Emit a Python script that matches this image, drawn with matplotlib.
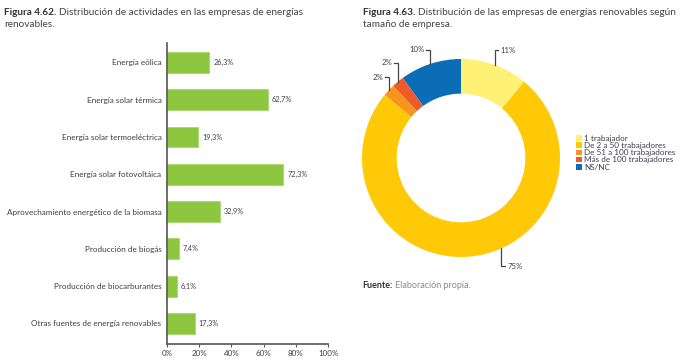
import numpy as np
import matplotlib
matplotlib.use("Agg")
import matplotlib.pyplot as plt

plt.rcParams['font.family'] = ['Lato', 'DejaVu Sans']

# datos figura 4.62
actividades = ["Energía eólica", "Energía solar térmica", "Energía solar termoeléctrica",
               "Energía solar fotovoltáica", "Aprovechamiento energético de la biomasa",
               "Producción de biogás", "Producción de biocarburantes",
               "Otras fuentes de energía renovables"]
porcentajes = [26.3, 62.7, 19.3, 72.3, 32.9, 7.4, 6.1, 17.3]
xticks = [0, 20, 40, 60, 80, 100]

# datos figura 4.63
tamanos = ["1 trabajador", "De 2 a 50 trabajadores", "De 51 a 100 trabajadores",
           "Más de 100 trabajadores", "NS/NC"]
cuota = [11, 75, 2, 2, 10]
colores = ["#FFF176", "#FFC907", "#F7941D", "#F05A28", "#0C6DB7"]

txt = "#3d3d4d"
fig = plt.figure(figsize=(7, 3.64), dpi=100)

# --- barras ---
ax = fig.add_axes([167/700, 1 - 344/364, 161/700, 301/364])
y = np.arange(len(actividades))
ax.barh(y, porcentajes, height=0.56, color="#8DC63F", edgecolor="#A8D86A", linewidth=0.6)
for yi, v in zip(y, porcentajes):
    ax.text(v + 2.5, yi, f"{v:.1f}".replace(".", ",") + "%", va="center", ha="left",
            fontsize=5.2, color=txt)
ax.set_yticks(y)
ax.set_yticklabels(actividades, fontsize=5.9, color=txt)
ax.set_ylim(len(actividades) - 0.45, -0.52)
ax.set_xlim(0, 100)
ax.set_xticks(xticks)
ax.set_xticklabels([f"{t}%" for t in xticks], fontsize=5.8, color=txt)
ax.tick_params(axis="y", length=0, pad=4)
ax.tick_params(axis="x", length=2.5, width=0.8, color="#555555", pad=2)
for s in ["top", "right"]:
    ax.spines[s].set_visible(False)
for s in ["left", "bottom"]:
    ax.spines[s].set_color("#555555")
    ax.spines[s].set_linewidth(1.2)

# --- donut ---
cx, cy, r = 461, 158, 99
ax2 = fig.add_axes([(cx - r)/700, 1 - (cy + r)/364, 2*r/700, 2*r/364])
wedges, _ = ax2.pie(cuota, colors=colores, startangle=90, counterclock=False,
                    radius=1, wedgeprops=dict(width=0.35, linewidth=0))
ax2.set_xlim(-1, 1)
ax2.set_ylim(-1, 1)
ax2.axis("off")

# posiciones de las etiquetas: desplazamiento angular y largo de la guía
ang_offset = [0, 18.6, 0, 0, 0]
guia = [0.15, 0.18, 0.13, 0.19, 0.14]
for w, v, da, L in zip(wedges, cuota, ang_offset, guia):
    a = np.deg2rad((w.theta1 + w.theta2) / 2 + da)
    x0, y0 = np.cos(a), np.sin(a)
    sy = 1 if y0 > 0 else -1
    sx = 1 if x0 > 0 else -1
    y1 = y0 + sy * L
    ax2.plot([x0, x0, x0 + sx * 0.04], [y0, y1, y1], color="#444444", lw=0.9,
             clip_on=False, solid_joinstyle="miter")
    ax2.text(x0 + sx * 0.06, y1, f"{v}%", ha="left" if sx > 0 else "right",
             va="center", fontsize=5.6, color=txt, clip_on=False)

leg = fig.legend(wedges, tamanos, loc="upper left", bbox_to_anchor=(576/700, 1 - 135/364),
                 frameon=False, fontsize=5.9, handlelength=0.7, handleheight=0.7,
                 handletextpad=0.3, labelspacing=0.02, borderpad=0, borderaxespad=0)
for t in leg.get_texts():
    t.set_color(txt)

# --- títulos ---
fig.canvas.draw()
ren = fig.canvas.get_renderer()


def titulo(x, y, negrita, resto, linea2=None, size=7.2, c2="#444444"):
    t = fig.text(x/700, 1 - y/364, negrita, fontsize=size, fontweight="bold",
                 color="#333333", va="baseline")
    bb = t.get_window_extent(ren)
    fig.text(bb.x1/700 + 0.004, 1 - y/364, resto, fontsize=size, color=c2, va="baseline")
    if linea2:
        fig.text(x/700, 1 - (y + 12)/364, linea2, fontsize=size, color=c2, va="baseline")


titulo(4, 15, "Figura 4.62.", "Distribución de actividades en las empresas de energías",
       "renovables.")
titulo(363, 15, "Figura 4.63.", "Distribución de las empresas de energías renovables según",
       "tamaño de empresa.")
titulo(362, 288, "Fuente:", "Elaboración propia.", size=6.5, c2="#8a8a8a")

fig.savefig("out.png", dpi=100)
